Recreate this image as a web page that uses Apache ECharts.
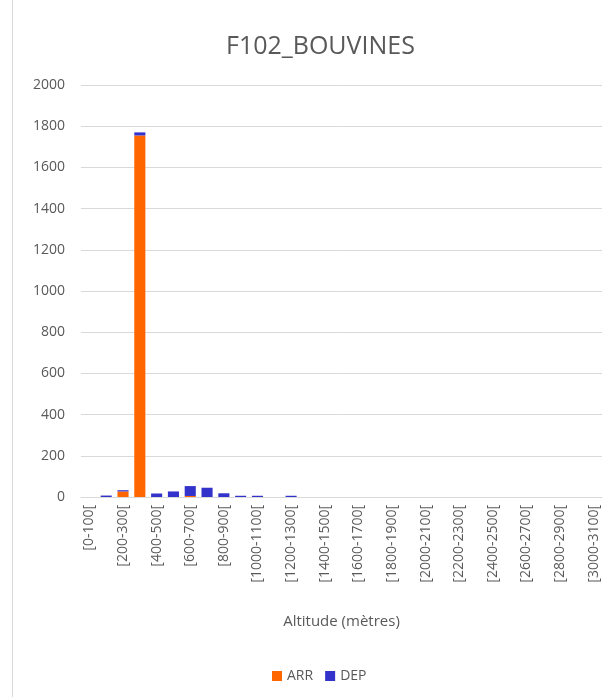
<!DOCTYPE html>
<html>
<head>
<meta charset="utf-8">
<script src="https://cdn.jsdelivr.net/npm/echarts@6/dist/echarts.min.js"></script>
<style>
  html, body { margin: 0; padding: 0; background: #fff; }
  #frame { position: absolute; left: 12px; top: 0; width: 602px; height: 697px; border-left: 1px solid #d9d9d9; }
  #chart { position: absolute; left: 0; top: 0; width: 614px; height: 699px; }
</style>
</head>
<body>
<div id="frame"></div>
<div id="chart"></div>
<script>
// altitude classes, 100 m wide
const categories = [
  '[0-100[', '[100-200[', '[200-300[', '[300-400[', '[400-500[', '[500-600[',
  '[600-700[', '[700-800[', '[800-900[', '[900-1000[', '[1000-1100[', '[1100-1200[',
  '[1200-1300[', '[1300-1400[', '[1400-1500[', '[1500-1600[', '[1600-1700[', '[1700-1800[',
  '[1800-1900[', '[1900-2000[', '[2000-2100[', '[2100-2200[', '[2200-2300[', '[2300-2400[',
  '[2400-2500[', '[2500-2600[', '[2600-2700[', '[2700-2800[', '[2800-2900[', '[2900-3000[',
  '[3000-3100['
]
const arrValues = [
  0, 0, 27, 1755, 0, 0, 5, 0, 0, 0, 0, 0, 0, 0, 0, 0,
  0, 0, 0, 0, 0, 0, 0, 0, 0, 0, 0, 0, 0, 0, 0
]
const depValues = [
  0, 7, 6, 15, 17, 27, 48, 45, 18, 6, 6, 0, 6, 0, 0, 0,
  0, 0, 0, 0, 0, 0, 0, 0, 0, 0, 0, 0, 0, 0, 0
]
const yTicks = { min: 0, max: 2000, interval: 200 }

const chart = echarts.init(document.getElementById('chart'))
const textColor = '#595959'
const font = 'Open Sans'
chart.setOption({
  animation: false,
  title: {
    text: 'F102_BOUVINES',
    left: 221,
    top: 29,
    textStyle: { color: textColor, fontSize: 25, fontWeight: 'normal', fontFamily: font }
  },
  legend: {
    bottom: 11,
    left: 267,
    itemWidth: 10,
    itemHeight: 10,
    itemGap: 12,
    icon: 'rect',
    textStyle: { color: textColor, fontSize: 14, fontFamily: font },
    data: ['ARR', 'DEP']
  },
  grid: {
    left: 81,
    right: 12,
    top: 85,
    bottom: 202
  },
  xAxis: {
    type: 'category',
    data: categories,
    name: 'Altitude (mètres)',
    nameLocation: 'middle',
    nameGap: 117,
    nameTextStyle: { color: textColor, fontSize: 15, fontFamily: font },
    axisLine: { lineStyle: { color: '#d9d9d9', width: 1 } },
    axisTick: { show: false },
    axisLabel: {
      interval: 1,
      rotate: 90,
      color: textColor,
      fontSize: 14,
      fontFamily: font,
      margin: 8
    }
  },
  yAxis: {
    type: 'value',
    min: yTicks.min,
    max: yTicks.max,
    interval: yTicks.interval,
    axisLine: { show: false },
    axisTick: { show: false },
    axisLabel: {
      color: textColor,
      fontSize: 14,
      fontFamily: font,
      margin: 16,
      formatter: v => String(v)
    },
    splitLine: { lineStyle: { color: '#d9d9d9', width: 1 } }
  },
  series: [{
    name: 'ARR',
    type: 'bar',
    stack: 'total',
    barWidth: '66%',
    itemStyle: { color: '#ff6600' },
    data: arrValues
  }, {
    name: 'DEP',
    type: 'bar',
    stack: 'total',
    barWidth: '66%',
    itemStyle: { color: '#3333cc' },
    data: depValues
  }]
})
</script>
</body>
</html>
